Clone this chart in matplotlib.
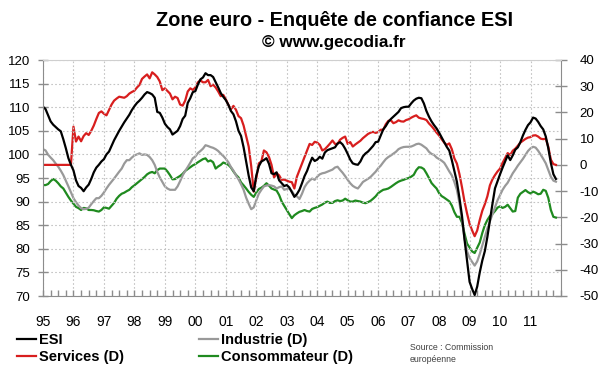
import matplotlib
matplotlib.use("Agg")
import matplotlib.pyplot as plt
import numpy as np
from matplotlib.ticker import MultipleLocator

plt.rcParams['font.family'] = ['Liberation Sans', 'DejaVu Sans']
plt.rcParams['axes.unicode_minus'] = False

# ---------------- data (monthly, Jan 1995 - Nov 2011) ----------------
start_year = 1995
year_labels = ["95", "96", "97", "98", "99", "00", "01", "02", "03",
               "04", "05", "06", "07", "08", "09", "10", "11"]
left_ticks = [70, 75, 80, 85, 90, 95, 100, 105, 110, 115, 120]
right_ticks = [-50, -40, -30, -20, -10, 0, 10, 20, 30, 40]

esi = [
    110.1, 109.6, 108.3, 107.0, 106.3, 105.8, 105.3, 104.9, 103.2, 101.3, 99.2, 97.8,
    96.6, 94.5, 93.3, 92.9, 92.2, 93.0, 93.6, 94.8, 96.2, 97.2, 97.8, 98.5,
    99.0, 100.0, 100.6, 101.8, 103.0, 104.0, 105.0, 105.9, 106.8, 107.6, 108.4, 109.4,
    110.2, 110.9, 111.4, 112.0, 112.7, 113.2, 113.0, 112.7, 112.0, 109.0, 108.8, 107.8,
    106.5, 105.8, 105.3, 104.2, 104.6, 105.0, 106.0, 107.5, 108.2, 110.9, 111.9, 113.2,
    113.4, 114.8, 115.9, 116.3, 117.2, 116.8, 116.8, 116.4, 115.3, 114.2, 113.0, 112.2,
    111.5, 110.5, 109.2, 108.5, 107.0, 105.0, 103.9, 101.5, 98.5, 95.5, 93.0, 92.2,
    95.5, 97.5, 98.5, 98.8, 99.2, 98.0, 96.0, 95.8, 96.2, 94.5, 93.9, 93.3,
    93.5, 93.0, 92.0, 91.0, 91.6, 92.5, 93.9, 95.4, 96.5, 98.0, 99.3, 98.6,
    98.9, 99.5, 99.1, 100.4, 100.9, 101.1, 101.3, 101.5, 102.3, 102.6, 102.1, 101.2,
    100.1, 98.9, 98.1, 97.9, 97.8, 98.5, 99.6, 100.2, 100.6, 101.2, 101.8, 102.6,
    102.7, 104.0, 105.3, 106.0, 106.9, 107.5, 108.0, 108.5, 109.0, 109.8, 110.0, 110.1,
    110.1, 110.8, 111.4, 111.8, 112.0, 111.9, 110.8, 109.2, 108.0, 107.0, 106.2, 105.5,
    104.6, 103.6, 102.6, 101.6, 100.8, 98.8, 96.5, 94.2, 90.8, 87.0, 82.0, 77.5,
    73.0, 71.5, 70.2, 72.0, 75.0, 77.5, 79.5, 82.5, 86.0, 89.5, 92.8, 94.3,
    95.8, 97.2, 98.5, 99.8, 98.8, 99.8, 101.0, 101.5, 102.6, 104.0, 105.2, 106.2,
    106.8, 107.8, 107.6, 106.9, 106.0, 105.3, 103.8, 101.3, 98.2, 95.8, 94.8,
]

services = [
    0, 0, 0, 0, 0, 0, 0, 0, 0, 0, 0, 0,
    14.6, 8.9, 10.8, 9.0, 11.0, 12.1, 11.4, 13.0, 15.0, 17.5, 19.8, 20.4,
    19.5, 18.9, 21.0, 23.0, 24.5, 25.3, 26.0, 25.8, 25.6, 26.2, 27.2, 27.8,
    28.3, 29.5, 30.5, 32.8, 33.7, 34.5, 33.0, 35.3, 34.5, 33.5, 31.8, 28.5,
    29.2, 28.2, 27.2, 25.0, 26.0, 25.5, 23.0, 22.6, 24.5, 28.0, 29.2, 28.6,
    29.5, 31.5, 32.2, 31.5, 31.5, 32.4, 30.0, 30.6, 29.5, 28.0, 26.2, 26.7,
    25.0, 22.9, 21.2, 22.5, 21.0, 18.6, 17.8, 15.0, 11.0, 7.0, -0.5, -10.2,
    -5.0, 0.6, 1.3, 5.5, 4.8, 3.0, 0.0, -4.8, -3.2, -4.0, -5.7, -5.6,
    -6.0, -6.4, -6.6, -9.0, -4.5, -2.0, 0.5, 3.0, 5.5, 8.0, 7.6, 8.8,
    8.5, 7.6, 5.5, 6.0, 7.0, 8.1, 9.3, 8.0, 8.0, 9.6, 10.3, 10.8,
    8.0, 8.7, 7.0, 7.8, 8.5, 9.2, 10.2, 11.0, 11.8, 12.3, 12.6, 12.2,
    12.5, 13.4, 13.4, 15.5, 16.8, 17.0, 15.9, 16.3, 17.0, 16.6, 16.5, 17.1,
    17.4, 18.0, 18.5, 18.9, 18.0, 17.7, 17.5, 17.1, 15.8, 14.8, 13.6, 12.3,
    11.2, 9.8, 8.5, 7.6, 8.2, 6.0, 2.5, 0.5, -3.5, -8.5, -14.0, -18.5,
    -22.5, -25.0, -27.2, -25.0, -21.0, -17.5, -15.0, -12.0, -7.8, -5.5, -3.9, -2.5,
    -1.4, 0.8, 2.6, 4.5, 3.8, 5.4, 6.2, 7.3, 8.5, 9.2, 9.9, 10.4,
    10.6, 11.2, 11.3, 10.8, 10.0, 9.8, 10.0, 6.9, 2.0, 0.3, 0.0,
]

industrie = [
    6.0, 5.5, 3.9, 2.8, 1.8, 0.5, -0.7, -2.2, -3.9, -6.0, -8.2, -10.5,
    -12.7, -14.2, -15.5, -16.5, -16.9, -16.8, -16.3, -15.0, -13.8, -12.7, -12.7, -11.8,
    -10.5, -9.0, -7.6, -6.4, -5.2, -3.9, -2.6, -1.4, 0.5, 1.8, 1.8, 2.8,
    3.6, 4.0, 4.4, 3.8, 4.0, 3.8, 3.0, 1.8, 0.0, -2.7, -4.8, -6.5,
    -8.2, -9.0, -9.5, -9.5, -9.5, -8.2, -6.2, -4.0, -2.3, -0.8, 0.8, 2.5,
    3.2, 4.5, 5.3, 6.2, 7.5, 7.2, 6.8, 6.5, 6.0, 5.3, 4.3, 3.4,
    2.3, 1.0, -0.8, -2.2, -4.0, -5.5, -7.4, -9.5, -12.5, -14.8, -16.9, -16.2,
    -13.5, -11.0, -9.5, -8.2, -7.9, -7.7, -7.9, -8.2, -9.0, -8.5, -8.2, -9.5,
    -9.2, -9.0, -10.0, -11.5, -12.0, -13.0, -11.0, -8.5, -7.0, -6.0, -5.2, -5.7,
    -4.5, -3.6, -3.2, -3.0, -2.6, -2.2, -1.8, -1.0, -0.7, -1.9, -3.0, -4.3,
    -5.7, -7.0, -8.0, -8.6, -9.0, -7.8, -6.5, -5.9, -5.3, -4.6, -3.6, -2.6,
    -1.3, -0.3, 1.0, 2.2, 3.0, 3.6, 4.3, 5.0, 6.0, 6.5, 6.8, 6.9,
    6.9, 7.0, 7.4, 7.9, 8.1, 7.7, 7.0, 6.3, 5.0, 4.2, 3.8, 2.8,
    2.2, 1.6, 0.8, -0.8, -2.5, -4.0, -6.5, -9.5, -14.5, -21.0, -28.0, -33.0,
    -35.5, -37.0, -38.4, -36.8, -34.0, -30.8, -27.5, -24.2, -21.5, -18.8, -16.2, -13.5,
    -11.5, -9.5, -8.0, -6.8, -5.0, -3.2, -1.8, -0.3, 1.0, 2.3, 3.8, 5.3,
    6.3, 6.9, 6.6, 5.4, 3.9, 2.3, 0.6, -1.9, -4.5, -6.0, -6.4,
]

consommateur = [
    -7.7, -7.7, -7.3, -6.2, -5.4, -6.0, -7.0, -8.2, -9.0, -10.6, -12.2, -13.6,
    -14.8, -16.0, -16.5, -17.2, -16.4, -16.6, -17.2, -17.2, -17.3, -17.6, -17.8, -17.2,
    -16.2, -16.4, -16.7, -15.6, -14.5, -12.9, -11.8, -11.0, -10.6, -10.0, -9.5, -8.5,
    -7.8, -7.0, -6.2, -5.4, -4.6, -3.6, -3.0, -2.7, -3.2, -2.0, -1.4, -1.4,
    -1.4, -2.5, -3.9, -5.5, -5.4, -4.8, -4.2, -3.4, -2.3, -1.6, -0.9, -0.2,
    0.3, 1.0, 1.6, 2.2, 2.5, 1.3, 1.7, 1.0, -1.4, -0.6, 0.0, 0.9,
    0.5, 0.0, -1.0, -2.5, -3.8, -4.8, -6.7, -7.8, -9.0, -10.3, -11.4, -12.2,
    -10.5, -9.2, -8.7, -8.0, -7.0, -7.9, -9.0, -9.4, -9.8, -11.5, -14.0, -15.6,
    -17.2, -18.8, -20.3, -19.2, -18.5, -17.9, -17.6, -17.2, -17.6, -17.8, -16.8, -16.4,
    -16.1, -15.6, -15.1, -14.4, -14.0, -14.5, -14.5, -13.8, -13.5, -13.8, -13.6, -12.9,
    -13.5, -14.0, -14.0, -13.6, -13.8, -14.0, -14.4, -14.6, -14.2, -13.7, -12.9, -12.0,
    -10.8, -10.1, -9.5, -9.3, -9.0, -8.4, -7.7, -7.0, -6.4, -6.0, -5.7, -5.3,
    -5.0, -4.5, -3.8, -2.0, -0.9, -1.0, -1.6, -3.2, -5.0, -6.9, -8.0, -9.0,
    -10.8, -11.9, -12.5, -13.2, -13.9, -15.5, -18.0, -19.8, -19.8, -22.0, -26.2, -30.0,
    -31.5, -33.0, -33.6, -31.6, -29.6, -26.0, -23.0, -21.0, -19.5, -18.7, -17.6, -16.3,
    -15.8, -16.4, -16.0, -15.2, -16.5, -17.8, -17.6, -12.5, -11.0, -10.3, -9.6, -10.4,
    -10.9, -10.2, -10.6, -11.2, -11.0, -9.5, -9.9, -12.6, -17.2, -19.8, -20.1,
]

# ---------------- figure ----------------
t = start_year + np.arange(len(esi)) / 12.0

fig = plt.figure(figsize=(6.0, 3.72), dpi=100)
ax1 = fig.add_axes([43 / 600, 1 - 296 / 372, 518 / 600, 236 / 372])
ax2 = ax1.twinx()
ax1.set_zorder(ax2.get_zorder() + 1)
ax1.patch.set_visible(False)

c_esi, c_serv, c_ind, c_cons = "#000000", "#d81e1e", "#999999", "#1f8a1f"
lw = 1.6
l_cons, = ax2.plot(t, consommateur, color=c_cons, lw=lw)
l_ind, = ax2.plot(t, industrie, color=c_ind, lw=lw)
l_serv, = ax2.plot(t, services, color=c_serv, lw=lw)
l_esi, = ax1.plot(t, esi, color=c_esi, lw=lw)

ax1.set_xlim(1995, 2012)
ax1.set_ylim(70, 120)
ax2.set_ylim(-50, 40)
ax1.set_yticks(left_ticks)
ax2.set_yticks(right_ticks)
ax1.set_xticks([start_year + i for i in range(len(year_labels))])
ax1.set_xticklabels(year_labels)
ax1.xaxis.set_minor_locator(MultipleLocator(0.25))

ax1.grid(True, which="major", axis="both", linestyle=(0, (1.5, 2.0)),
         color="#c4c4c4", lw=0.8)
ax1.set_axisbelow(True)

spc = "#8c8c8c"
for s in ("left", "bottom"):
    ax1.spines[s].set_color(spc)
ax1.spines["top"].set_color("#cfcfcf")
ax1.spines["right"].set_visible(False)
for s in ("left", "bottom", "top"):
    ax2.spines[s].set_visible(False)
ax2.spines["right"].set_color(spc)

ax1.tick_params(axis="y", direction="inout", length=7, width=1, color=spc,
                labelsize=9.5, pad=5.5)
ax2.tick_params(axis="y", direction="inout", length=8, width=1, color=spc,
                labelsize=9.5, pad=9.5)
ax1.tick_params(axis="x", which="both", direction="in", length=4, width=1,
                color=spc, labelsize=10, pad=14)

fig.text(334 / 600, 1 - 20 / 372, "Zone euro - Enquête de confiance ESI",
         ha="center", va="center", fontsize=14.3, fontweight="bold")
fig.text(334 / 600, 1 - 43 / 372, "© www.gecodia.fr",
         ha="center", va="center", fontsize=12.3, fontweight="bold")

lp = dict(frameon=False, prop={"weight": "bold", "size": 10.5}, handlelength=1.3,
          handletextpad=0.2, labelspacing=0.2, borderpad=0, borderaxespad=0)
fig.legend([l_esi, l_serv], ["ESI", "Services (D)"], loc="center left",
           bbox_to_anchor=(17 / 600, 1 - 348.5 / 372), **lp)
fig.legend([l_ind, l_cons], ["Industrie (D)", "Consommateur (D)"], loc="center left",
           bbox_to_anchor=(199 / 600, 1 - 348.5 / 372), **lp)

fig.text(410 / 600, 1 - 347 / 372, "Source : Commission", fontsize=6.3,
         color="#404040", va="center", ha="left")
fig.text(410 / 600, 1 - 359 / 372, "européenne", fontsize=6.3,
         color="#404040", va="center", ha="left")

fig.savefig("out.png", dpi=100)
